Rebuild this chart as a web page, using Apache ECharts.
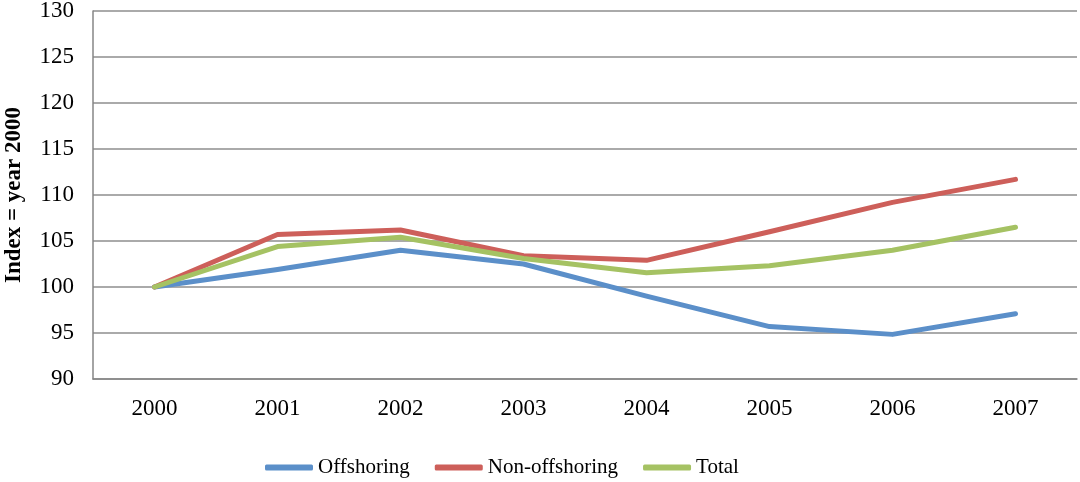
<!DOCTYPE html>
<html>
<head>
<meta charset="utf-8">
<script src="https://cdn.jsdelivr.net/npm/echarts@6/dist/echarts.min.js"></script>
<style>
  html, body { margin: 0; padding: 0; background: #fff; }
  #chart { width: 1080px; height: 482px; }
</style>
</head>
<body>
<div id="chart"></div>
<script>
var years = ['2000', '2001', '2002', '2003', '2004', '2005', '2006', '2007'];
var offshoring = [100, 101.9, 104.0, 102.5, 99.0, 95.7, 94.85, 97.1];
var nonOffshoring = [100, 105.7, 106.2, 103.4, 102.9, 106.0, 109.2, 111.7];
var total = [100, 104.4, 105.4, 103.1, 101.55, 102.3, 104.0, 106.5];

var fontFamily = '"Liberation Serif", "Times New Roman", serif';

var chart = echarts.init(document.getElementById('chart'));
chart.setOption({
    animation: false,
    textStyle: { fontFamily: fontFamily },
    grid: { left: 93, right: 3, top: 11, bottom: 103, outerBoundsMode: 'none', containLabel: false },
    legend: {
        top: 452,
        left: 260,
        itemWidth: 48,
        itemHeight: 6,
        itemGap: 25,
        icon: 'roundRect',
        textStyle: { fontFamily: fontFamily, fontSize: 21, color: '#000' },
        data: ['Offshoring', 'Non-offshoring', 'Total']
    },
    xAxis: {
        type: 'category',
        data: years,
        boundaryGap: true,
        axisLine: { lineStyle: { color: '#868686', width: 1.5 } },
        axisTick: { show: false },
        axisLabel: { color: '#000', fontSize: 23, fontFamily: fontFamily, margin: 18 }
    },
    yAxis: {
        type: 'value',
        min: 90,
        max: 130,
        interval: 5,
        name: 'Index = year 2000',
        nameLocation: 'middle',
        nameGap: 67,
        nameTextStyle: { fontFamily: fontFamily, fontSize: 23, fontWeight: 'bold', color: '#000' },
        axisLine: { show: true, lineStyle: { color: '#868686', width: 1.5 } },
        axisTick: { show: false },
        axisLabel: { color: '#000', fontSize: 23, fontFamily: fontFamily, margin: 19 },
        splitLine: { lineStyle: { color: '#8e8e8e', width: 1.5 } }
    },
    series: [
        {
            name: 'Offshoring',
            type: 'line',
            data: offshoring,
            symbol: 'none',
            lineStyle: { color: '#5b8fc9', width: 5, cap: 'round', join: 'round' },
            itemStyle: { color: '#5b8fc9' }
        },
        {
            name: 'Non-offshoring',
            type: 'line',
            data: nonOffshoring,
            symbol: 'none',
            lineStyle: { color: '#cd5f5a', width: 5, cap: 'round', join: 'round' },
            itemStyle: { color: '#cd5f5a' }
        },
        {
            name: 'Total',
            type: 'line',
            data: total,
            symbol: 'none',
            lineStyle: { color: '#a5c263', width: 5, cap: 'round', join: 'round' },
            itemStyle: { color: '#a5c263' }
        }
    ]
});
</script>
</body>
</html>
